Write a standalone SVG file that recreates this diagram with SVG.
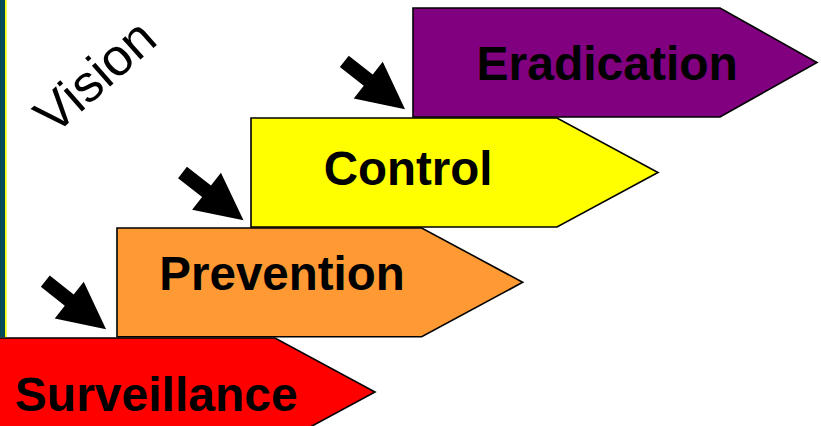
<svg xmlns="http://www.w3.org/2000/svg" width="821" height="426" viewBox="0 0 821 426">
  <defs>
    <style>
      .step { stroke: #000; stroke-width: 1.6; stroke-linejoin: miter; }
      .label { font-family: "Liberation Sans", Arial, sans-serif; font-weight: bold; font-size: 47.5px; fill: #000; }
      .vision { font-family: "Liberation Sans", Arial, sans-serif; font-size: 52px; fill: #000; }
      .arr { fill: #000; }
    </style>
    <path id="blockArrow" d="M0,-7.2 L30.5,-7.2 L30.5,-23.4 L77.4,0 L30.5,23.4 L30.5,7.2 L0,7.2 Z"/>
  </defs>
  <rect x="0" y="0" width="821" height="426" fill="#fff"/>
  <g id="border">
    <rect x="0" y="0" width="5" height="337" fill="#064B58"/>
    <rect x="5" y="0" width="1.6" height="337" fill="#FFFF00"/>
  </g>
  <g id="vision">
    <text class="vision" x="0" y="0" transform="translate(54,136) rotate(-41.5)">Vision</text>
  </g>
  <g id="surveillance">
    <path class="step" fill="#FF0000" d="M-2,338 L275,338 L375,392 L275,446 L-2,446 Z"/>
    <text class="label" x="14.8" y="411" style="font-size:48px">Surveillance</text>
  </g>
  <g id="prevention">
    <path class="step" fill="#FF9933" d="M117,228 L421.7,228 L522.7,282.3 L421.7,336.7 L117,336.7 Z"/>
    <text class="label" x="159.3" y="290">Prevention</text>
  </g>
  <g id="control">
    <path class="step" fill="#FFFF00" d="M251,118 L557,118 L658,172.5 L557,227 L251,227 Z"/>
    <text class="label" x="323.7" y="185">Control</text>
  </g>
  <g id="eradication">
    <path class="step" fill="#800080" d="M413,8 L720,8 L817,62.5 L720,117 L413,117 Z"/>
    <text class="label" x="476.5" y="80" style="font-size:48px">Eradication</text>
  </g>
  <g id="connectors">
    <use href="#blockArrow" class="arr" transform="translate(45.3,281.2) rotate(38.3)"/>
    <use href="#blockArrow" class="arr" transform="translate(182.5,172.5) rotate(38)"/>
    <use href="#blockArrow" class="arr" transform="translate(344.3,61.3) rotate(38.3)"/>
  </g>
</svg>
